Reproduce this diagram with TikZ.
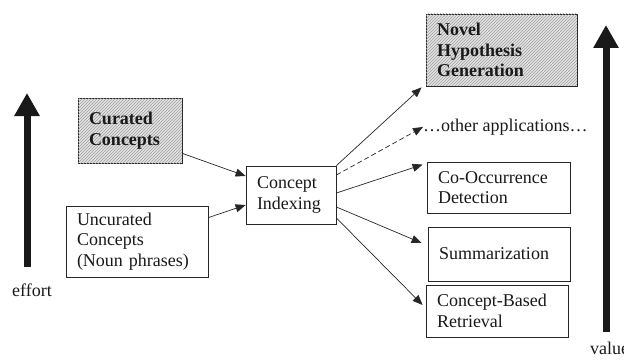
\documentclass[tikz,border=0pt]{standalone}
\usepackage{fontspec}
\setmainfont{Liberation Serif}
\usetikzlibrary{arrows.meta,patterns}
\begin{document}
\begin{tikzpicture}[x=1pt,y=-1pt,
  every node/.style={font=\fontsize{18}{20.5}\selectfont, text=black!90},
  box/.style={draw=black!85, line width=0.8pt, align=left, inner xsep=11pt, inner ysep=0pt, fill=white},
  hatched/.style={box, fill=gray!22, postaction={pattern=north east lines, pattern color=gray!75}, font=\fontsize{18}{20.5}\selectfont\bfseries},
  conn/.style={draw=black!85, line width=0.7pt, -{Triangle[length=10pt,width=8pt]}},
  bigarrow/.style={draw=black!90, fill=black!90, line width=7pt, -{Triangle[length=23pt,width=24pt]}}
]
\useasboundingbox (0,0) rectangle (624,361);
\clip (0,0) rectangle (624,361);
% boxes
\node[hatched, minimum width=104pt, minimum height=65pt, text width=82pt] (cur) at (130,130.5) {Curated\\Concepts};
\node[box, minimum width=142pt, minimum height=71pt, text width=120pt] (unc) at (137,241.5) {Uncurated\\Concepts\\(Noun phrases)};
\node[box, minimum width=90pt, minimum height=58pt, text width=68pt] (ci) at (291,195) {Concept\\Indexing};
\node[hatched, minimum width=151pt, minimum height=72pt, text width=129pt] (nov) at (501.5,50) {Novel\\Hypothesis\\Generation};
\node[anchor=west, inner sep=0pt] (oth) at (423,127) {…other applications…};
\node[box, minimum width=143pt, minimum height=51pt, text width=121pt] (co) at (498.5,187.5) {Co-Occurrence\\Detection};
\node[box, minimum width=142pt, minimum height=54pt, text width=120pt] (su) at (499,254) {Summarization};
\node[box, minimum width=142pt, minimum height=52pt, text width=120pt] (cbr) at (497,311) {Concept-Based\\Retrieval};
% connectors
\draw[conn] ([yshift=10pt]cur.south east) -- ([yshift=19pt]ci.west);
\draw[conn] ([yshift=-12pt]unc.north east) -- ([yshift=-10pt]ci.west);
\draw[conn] (ci.north east) -- ([xshift=-4pt,yshift=-1pt]nov.south west);
\draw[conn, dash pattern=on 5pt off 3pt] ([yshift=20pt]ci.east) -- (oth.west);
\draw[conn] ([yshift=2pt]ci.east) -- ([xshift=-4pt,yshift=-3pt]co.north west);
\draw[conn] ([yshift=-12pt]ci.east) -- ([xshift=-6pt,yshift=11pt]su.west);
\draw[conn] ([yshift=-23pt]ci.east) -- ([xshift=-3pt,yshift=6pt]cbr.west);
% side arrows
\coordinate (eb) at (27,267);
\coordinate (et) at (27,93);
\coordinate (vb) at (606,332);
\coordinate (vt) at (606,25);
\draw[bigarrow] (eb) -- (et);
\draw[bigarrow] (vb) -- (vt);
\node (eff) at (32,290) {effort};
\node[anchor=west, inner sep=0pt] (val) at (590,348) {value};
\end{tikzpicture}
\end{document}
